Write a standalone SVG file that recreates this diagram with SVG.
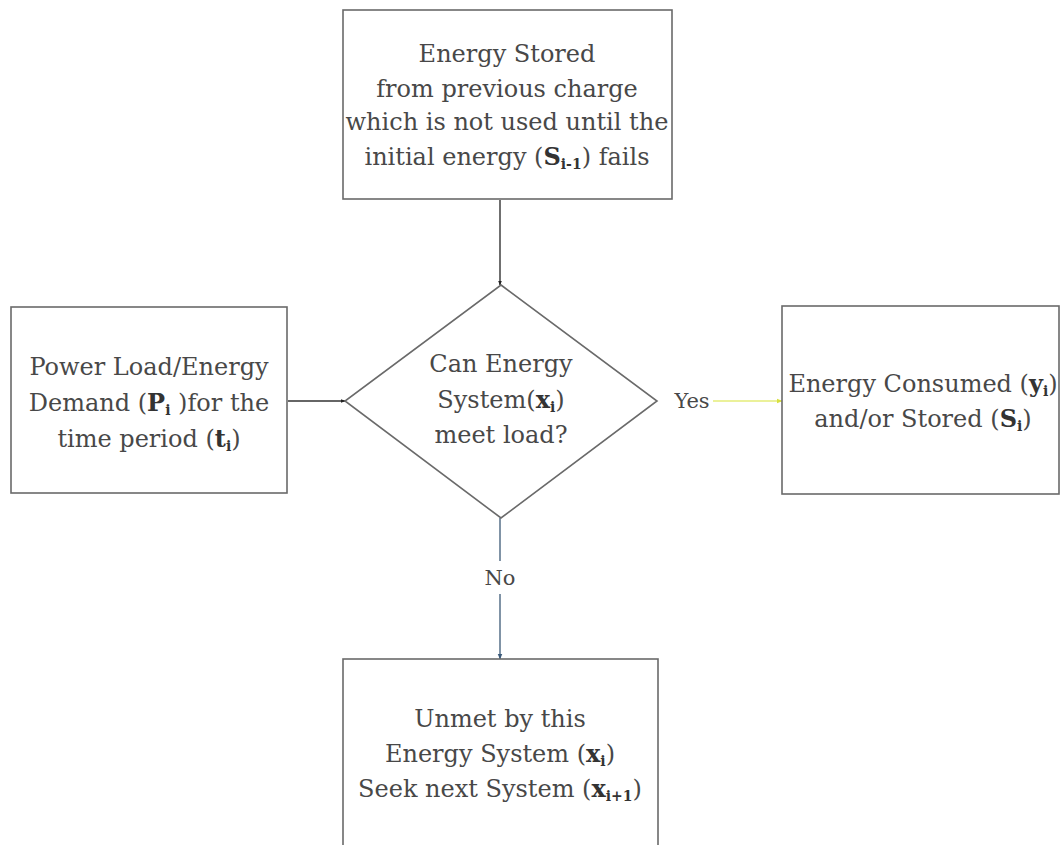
<svg xmlns="http://www.w3.org/2000/svg" width="1062" height="845" viewBox="0 0 1062 845">
  <defs>
    <marker id="tip" viewBox="0 0 10 10" refX="9" refY="5" markerWidth="5" markerHeight="5" orient="auto" markerUnits="userSpaceOnUse">
      <path d="M0,1 L10,5 L0,9 Z" fill="#222"/>
    </marker>
    <marker id="tipBlue" viewBox="0 0 10 10" refX="9" refY="5" markerWidth="6" markerHeight="6" orient="auto" markerUnits="userSpaceOnUse">
      <path d="M0,1 L10,5 L0,9 Z" fill="#3b5a7a"/>
    </marker>
    <marker id="tipYellow" viewBox="0 0 10 10" refX="9" refY="5" markerWidth="6" markerHeight="6" orient="auto" markerUnits="userSpaceOnUse">
      <path d="M0,1 L10,5 L0,9 Z" fill="#d8e040"/>
    </marker>
  </defs>
  <style>
    .box { fill: #ffffff; stroke: #6a6a6a; stroke-width: 1.6; }
    .lbl { font-family: "DejaVu Serif", "Liberation Serif", serif; font-size: 24px; fill: #484848; text-anchor: middle; }
    .b { font-weight: bold; fill: #333; }
    .sub { font-size: 14px; }
    .tag { font-size: 21px; }
    .edge { fill: none; stroke-width: 1.4; }
  </style>
  <rect width="1062" height="845" fill="#ffffff"/>

  <!-- connectors -->
  <g id="connectors">
    <line class="edge" x1="500" y1="200" x2="500" y2="285" stroke="#333" marker-end="url(#tip)"/>
    <line class="edge" x1="288" y1="401" x2="345" y2="401" stroke="#333" marker-end="url(#tip)"/>
    <line class="edge" x1="713" y1="401" x2="782" y2="401" stroke="#e4ec78" marker-end="url(#tipYellow)"/>
    <line class="edge" x1="500" y1="518" x2="500" y2="659" stroke="#4a6580" marker-end="url(#tipBlue)"/>
    <rect x="482" y="561" width="36" height="33" fill="#ffffff"/>
    <text class="lbl tag" x="500" y="585">No</text>
    <text class="lbl tag" x="692" y="408">Yes</text>
  </g>

  <!-- stored energy -->
  <g id="stored">
    <rect class="box" x="343" y="10" width="329" height="189"/>
    <text class="lbl" x="507" y="62">Energy Stored</text>
    <text class="lbl" x="507" y="97">from previous charge</text>
    <text class="lbl" x="507" y="130">which is not used until the</text>
    <text class="lbl" x="507" y="165">initial energy  (<tspan class="b">S</tspan><tspan class="b sub" dy="4">i-1</tspan><tspan dy="-4">) fails</tspan></text>
  </g>

  <!-- load demand -->
  <g id="demand">
    <rect class="box" x="11" y="307" width="276" height="186"/>
    <text class="lbl" x="149" y="375">Power Load/Energy</text>
    <text class="lbl" x="149" y="411">Demand (<tspan class="b">P</tspan><tspan class="b sub" dy="4">i</tspan><tspan dy="-4"> )for the</tspan></text>
    <text class="lbl" x="149" y="447">time period (<tspan class="b">t</tspan><tspan class="b sub" dy="4">i</tspan><tspan dy="-4">)</tspan></text>
  </g>

  <!-- decision -->
  <g id="decision">
    <polygon class="box" points="501,285 657,401 501,518 345,401"/>
    <text class="lbl" x="501" y="372">Can Energy</text>
    <text class="lbl" x="501" y="408">System(<tspan class="b">x</tspan><tspan class="b sub" dy="4">i</tspan><tspan dy="-4">)</tspan></text>
    <text class="lbl" x="501" y="443">meet load?</text>
  </g>

  <!-- consumed / stored -->
  <g id="consumed">
    <rect class="box" x="782" y="306" width="277" height="188"/>
    <text class="lbl" x="923" y="392">Energy Consumed (<tspan class="b">y</tspan><tspan class="b sub" dy="4">i</tspan><tspan dy="-4">)</tspan></text>
    <text class="lbl" x="923" y="427">and/or Stored (<tspan class="b">S</tspan><tspan class="b sub" dy="4">i</tspan><tspan dy="-4">)</tspan></text>
  </g>

  <!-- unmet -->
  <g id="unmet">
    <rect class="box" x="343" y="659" width="315" height="200"/>
    <text class="lbl" x="500" y="727">Unmet by this</text>
    <text class="lbl" x="500" y="762">Energy System (<tspan class="b">x</tspan><tspan class="b sub" dy="4">i</tspan><tspan dy="-4">)</tspan></text>
    <text class="lbl" x="500" y="797">Seek next System (<tspan class="b">x</tspan><tspan class="b sub" dy="4">i+1</tspan><tspan dy="-4">)</tspan></text>
  </g>
</svg>
